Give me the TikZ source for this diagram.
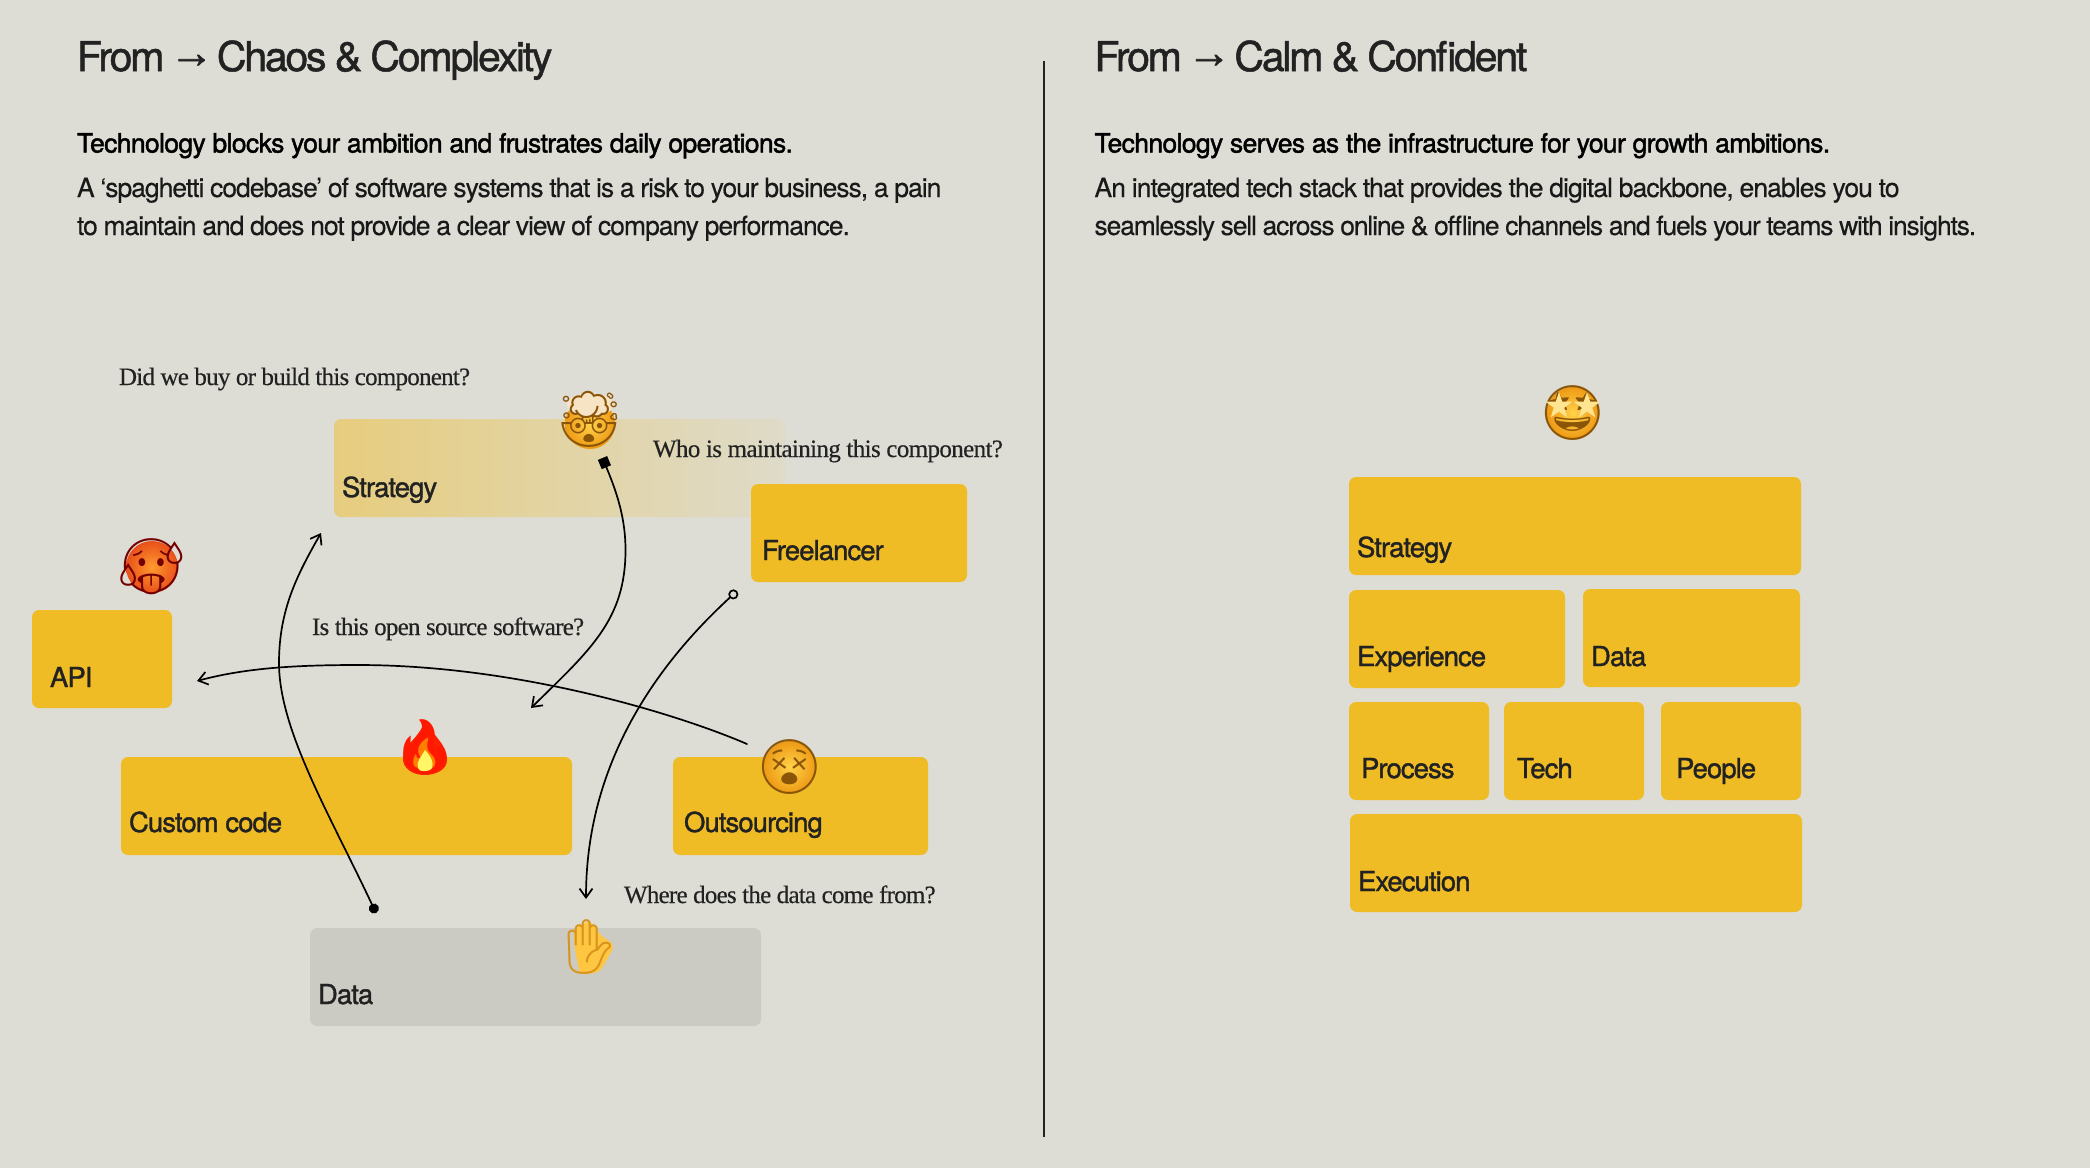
\documentclass[tikz,border=0pt]{standalone}
\usepackage{fontspec}
\usetikzlibrary{arrows.meta}
\setmainfont{TeX Gyre Heros}
\newfontfamily\titlefont[LetterSpace=-5.4,WordSpace=0.9,FakeBold=1.2]{TeX Gyre Heros}
\newfontfamily\boldfont[LetterSpace=-2.4,FakeBold=1.6]{TeX Gyre Heros}
\newfontfamily\bodyfont[LetterSpace=-3.5,WordSpace=0.9,FakeBold=0.3]{TeX Gyre Heros}
\newfontfamily\bodyfontB[LetterSpace=-3.85,WordSpace=0.9,FakeBold=0.3]{TeX Gyre Heros}
\newfontfamily\bodyfontC[LetterSpace=-4.35,WordSpace=0.9,FakeBold=0.3]{TeX Gyre Heros}
\newfontfamily\labelfont[LetterSpace=-3.4,FakeBold=1.3]{TeX Gyre Heros}
\newfontfamily\askfont[LetterSpace=-3.0,FakeBold=0.4]{Liberation Serif}
\newfontfamily\askfontB[LetterSpace=-2.5,FakeBold=0.4]{Liberation Serif}
\newfontfamily\arrowfont[FakeBold=1.5]{Liberation Sans}
\newfontfamily\emo{Noto Emoji}
\definecolor{bgc}{HTML}{DDDDD5}
\definecolor{yel}{HTML}{F0BC26}
\definecolor{gry}{HTML}{CBCBC3}
\definecolor{ink}{HTML}{222222}
\definecolor{hotA}{HTML}{FF9A2E}
\definecolor{hotB}{HTML}{E9501A}
\definecolor{faceA}{HTML}{FFD24A}
\definecolor{faceB}{HTML}{EE9A14}
\definecolor{browC}{HTML}{8A5508}
\definecolor{handC}{HTML}{FFC741}
\definecolor{handL}{HTML}{D8941E}
\definecolor{cloud}{HTML}{F6E4C4}
\tikzset{
  x=1pt,y=-1pt,
  plain/.style={inner sep=0pt,outer sep=0pt,anchor=north west,rounded corners=7pt},
  ybox/.style={plain,fill=yel},
  gbox/.style={plain,fill=gry},
  base/.style={inner sep=0pt,outer sep=0pt,anchor=base west,text=ink},
  title/.style={base,font=\titlefont\fontsize{41}{41}\selectfont},
  lead/.style={base,text=black,font=\boldfont\fontsize{26.5}{26.5}\selectfont},
  body/.style={base,text=black!90,font=\bodyfont\fontsize{26.5}{26.5}\selectfont},
  bodyB/.style={base,text=black!90,font=\bodyfontB\fontsize{26.5}{26.5}\selectfont},
  bodyC/.style={base,text=black!90,font=\bodyfontC\fontsize{26.5}{26.5}\selectfont},
  lbl/.style={base,font=\labelfont\fontsize{27.5}{27.5}\selectfont},
  ask/.style={base,font=\askfont\fontsize{25}{25}\selectfont},
  askB/.style={base,font=\askfontB\fontsize{25}{25}\selectfont},
  emoji/.style={inner sep=0pt,outer sep=0pt,anchor=center,font=\emo\fontsize{54}{54}\selectfont,text=#1},
  conn/.style={line width=1.7pt,black,line cap=round},
  tip/.style={-{Straight Barb[length=9pt,width=13pt,line width=1.7pt]}},
  facefill/.style={inner color=faceA,outer color=faceB},
}
\newcommand{\arw}{\hspace{-3pt}\raisebox{3.5pt}{\arrowfont\fontsize{44}{41}\selectfont→}\hspace{-5pt}}
\newcommand{\starat}[2]{\fill[faceA!60!white,shift={(#1,#2)}] (270:14) -- (306:5.5) -- (342:14) -- (18:5.5) -- (54:14) -- (90:5.5) -- (126:14) -- (162:5.5) -- (198:14) -- (234:5.5) -- cycle;}
\begin{document}
\begin{tikzpicture}
\useasboundingbox (0,0) rectangle (2090,1168);
\fill[bgc] (0,0) rectangle (2090,1168);

% divider
\coordinate (divtop) at (1044,61);
\coordinate (divbot) at (1044,1137);
\draw[line width=1.3pt,ink] (divtop) -- (divbot);

% headings
\node[title] (tl) at (77,71) {From \arw{} Chaos \& Complexity};
\node[title] (tr) at (1094.5,71) {From \arw{} Calm \& Confident};
\node[lead] (l1) at (77,152.5) {Technology blocks your ambition and frustrates daily operations.};
\node[bodyB] (l2) at (77,197) {A ‘spaghetti codebase’ of software systems that is a risk to your business, a pain};
\node[bodyB] (l3) at (77,235) {to maintain and does not provide a clear view of company performance.};
\node[lead] (r1) at (1094.5,152.5) {Technology serves as the infrastructure for your growth ambitions.};
\node[body] (r2) at (1094.5,197) {An integrated tech stack that provides the digital backbone, enables you to};
\node[bodyC] (r3) at (1094.5,235) {seamlessly sell across online \& offline channels and fuels your teams with insights.};

% left boxes
\shade[left color=yel!50!bgc,right color=bgc!93!yel,rounded corners=7pt] (334,419) rectangle (785,517);
\node[ybox,minimum width=216pt,minimum height=98pt] (free) at (751,484) {};
\node[ybox,minimum width=140pt,minimum height=98pt] (api) at (32,610) {};
\node[ybox,minimum width=451pt,minimum height=98pt] (cc) at (121,757) {};
\node[ybox,minimum width=255pt,minimum height=98pt] (out) at (673,757) {};
\node[gbox,minimum width=451pt,minimum height=98pt] (dataL) at (310,928) {};

\node[lbl] (t1) at (342,497) {Strategy};
\node[lbl] (t2) at (762,560) {Freelancer};
\node[lbl] (t3) at (50,687) {API};
\node[lbl] (t4) at (129,832) {Custom code};
\node[lbl] (t5) at (684,832) {Outsourcing};
\node[lbl] (t6) at (318,1004) {Data};

% questions
\node[ask] (q1) at (119,385) {Did we buy or build this component?};
\node[askB] (q2) at (653,457) {Who is maintaining this component?};
\node[ask] (q3) at (312,635) {Is this open source software?};
\node[ask] (q4) at (624,903) {Where does the data come from?};

% right boxes
\node[ybox,minimum width=452pt,minimum height=98pt] (rs) at (1349,477) {};
\node[ybox,minimum width=216pt,minimum height=98pt] (re) at (1349,590) {};
\node[ybox,minimum width=217pt,minimum height=98pt] (rd) at (1583,589) {};
\node[ybox,minimum width=140pt,minimum height=98pt] (rp) at (1349,702) {};
\node[ybox,minimum width=140pt,minimum height=98pt] (rt) at (1504,702) {};
\node[ybox,minimum width=140pt,minimum height=98pt] (rq) at (1661,702) {};
\node[ybox,minimum width=452pt,minimum height=98pt] (rx) at (1350,814) {};
\node[lbl] (u1) at (1357,557) {Strategy};
\node[lbl] (u2) at (1357,666) {Experience};
\node[lbl] (u3) at (1591,666) {Data};
\node[lbl] (u4) at (1361,778) {Process};
\node[lbl] (u5) at (1517,778) {Tech};
\node[lbl] (u6) at (1676,778) {People};
\node[lbl] (u7) at (1358,891) {Execution};

% connectors
\coordinate (a1s) at (376,913); \coordinate (a1m) at (279,663); \coordinate (a1e) at (321,533);
\coordinate (a2s) at (602.5,458); \coordinate (a2m) at (625.5,550); \coordinate (a2e) at (531,708);
\coordinate (a3s) at (747,744); \coordinate (a3m) at (358,665); \coordinate (a3e) at (197,681);
\coordinate (a4s) at (737,591); \coordinate (a4e) at (586,899);
\draw[conn,{Circle[length=10pt,width=10pt]}-{Straight Barb[length=9pt,width=13pt,line width=1.7pt]}]
  (a1s) .. controls (330,815) and (279,730) .. (a1m) .. controls (279,610) and (297,575) .. (a1e);
\draw[conn,{Square[length=10pt,width=10pt]}-{Straight Barb[length=9pt,width=13pt,line width=1.7pt]}]
  (a2s) .. controls (618,495) and (625.5,520) .. (a2m) .. controls (625.5,620) and (590,650) .. (a2e);
\draw[conn,tip] (a3s) .. controls (680,715) and (520,665) .. (a3m) .. controls (295,665) and (245,668) .. (a3e);
\draw[conn,{Circle[open,length=10pt,width=10pt,fill=bgc]}-{Straight Barb[length=9pt,width=13pt,line width=1.7pt]}]
  (a4s) .. controls (640,680) and (586,780) .. (a4e);

% emoji: colour under-drawing plus the glyph as text
% exploding head
\shade[facefill] (590,424) circle (25);
\fill[cloud] (590,405) ellipse (23 and 12);
\node[emoji=browC] (e1) at (590,419) {🤯};
% hot face
\shade[inner color=hotA,outer color=hotB] (152,567) circle (26);
\node[emoji=red!45!black] (e2) at (152,567) {🥵};
% fire
\fill[red!75!orange] (425,720) .. controls (432,735) and (448,745) .. (447,760) .. controls (447,770) and (435,775) .. (425,775) .. controls (412,775) and (402,768) .. (403,757) .. controls (403,745) and (420,738) .. (425,720) -- cycle;
\fill[orange] (425,733) .. controls (432,745) and (440,752) .. (439,762) .. controls (438,771) and (412,771) .. (411,762) .. controls (410,752) and (420,745) .. (425,733) -- cycle;
\fill[yellow!60!white] (425,750) .. controls (431,757) and (434,762) .. (432,768) .. controls (430,774) and (420,774) .. (418,768) .. controls (416,762) and (421,757) .. (425,750) -- cycle;
\node[emoji=red!80!orange] (e3) at (425,747) {🔥};
% dizzy face
\shade[facefill] (790,767) circle (26);
\node[emoji=browC] (e4) at (790,767) {😵};
% hand
\fill[handC,rounded corners=6pt] (575,950) -- (573,930) -- (590,920) -- (600,935) -- (615,945) -- (600,972) -- (580,975) -- cycle;
\node[emoji=handL] (e5) at (590,947) {✋};
% star struck
\shade[facefill] (1573,413) circle (26);
\node[emoji=browC] (e6) at (1573,413) {🤩};
\starat{1559}{406}
\starat{1587}{406}
\end{tikzpicture}
\end{document}
